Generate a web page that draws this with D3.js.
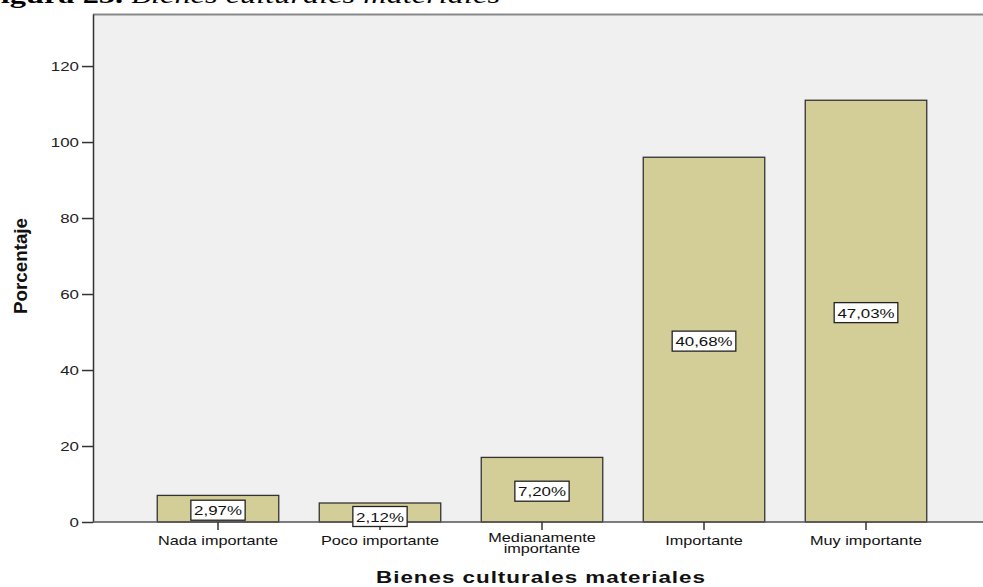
<!DOCTYPE html>
<html>
<head>
<meta charset="utf-8">
<script src="https://cdn.jsdelivr.net/npm/d3@7"></script>
<style>
  html, body { margin: 0; padding: 0; background: #fff; }
  svg { display: block; }
</style>
</head>
<body>
<svg id="chart" width="983" height="587"></svg>
<script>
const categories = ["Nada importante", "Poco importante", "Medianamente importante", "Importante", "Muy importante"];
const counts = [7, 5, 17, 96, 111];
const percentLabels = ["2,97%", "2,12%", "7,20%", "40,68%", "47,03%"];
const yTicks = [0, 20, 40, 60, 80, 100, 120];
const yTitle = "Porcentaje";
const xTitle = "Bienes culturales materiales";

const svg = d3.select("#chart");
const plot = { left: 93, right: 983, top: 14, bottom: 522 };
const sans = "Liberation Sans, Arial, sans-serif";
const SX = 1.25; // horizontal stretch of the original picture

function wideText(parent, px, py, str, size, anchor, sx) {
  return parent.append("text")
    .attr("transform", `translate(${px},${py}) scale(${sx || SX},1)`)
    .attr("text-anchor", anchor || "middle")
    .attr("font-family", sans)
    .attr("font-size", size)
    .attr("fill", "#111")
    .text(str);
}

// Cut-off figure caption at top
const cap = svg.append("text").attr("transform", "translate(-19,3) scale(1.35,1)")
  .attr("font-family", "Liberation Serif, Times New Roman, serif").attr("font-size", 24);
cap.append("tspan").attr("font-weight", "bold").text("Figura 23. ");
cap.append("tspan").attr("font-style", "italic").text("Bienes culturales materiales");

const y = d3.scaleLinear().domain([0, 133.7]).range([plot.bottom, plot.top]);
const x = d3.scaleBand().domain(categories).range([137, 947]).paddingInner(0.25).paddingOuter(0.125);

// background
svg.append("rect").attr("x", plot.left).attr("y", plot.top)
  .attr("width", plot.right - plot.left).attr("height", plot.bottom - plot.top)
  .attr("fill", "#f0f0f0");
svg.append("line").attr("x1", plot.left).attr("x2", plot.right)
  .attr("y1", plot.top + 0.5).attr("y2", plot.top + 0.5)
  .attr("stroke", "#888").attr("stroke-width", 2);

// bars
svg.selectAll("rect.bar").data(categories).enter().append("rect")
  .attr("class", "bar")
  .attr("x", d => x(d))
  .attr("y", (d, i) => y(counts[i]))
  .attr("width", x.bandwidth())
  .attr("height", (d, i) => y(0) - y(counts[i]))
  .attr("fill", "#d3ce98")
  .attr("stroke", "#333")
  .attr("stroke-width", 1.3);

// y axis
const yAxis = d3.axisLeft(y).tickValues(yTicks).tickSize(11).tickSizeOuter(0).tickFormat("");
const gy = svg.append("g").attr("transform", `translate(${plot.left},0)`).call(yAxis);
gy.select(".domain").attr("stroke", "#333").attr("stroke-width", 1.5);
gy.selectAll(".tick line").attr("stroke", "#333").attr("stroke-width", 1.5);
yTicks.forEach(v => {
  wideText(svg, 79, y(v) + 5, String(v), 13.5, "end").attr("fill", "#222");
});

// x axis line
svg.append("line").attr("x1", plot.left).attr("x2", plot.right)
  .attr("y1", plot.bottom).attr("y2", plot.bottom)
  .attr("stroke", "#555").attr("stroke-width", 1.5);
const xAxis = d3.axisBottom(x).tickSize(8).tickSizeOuter(0).tickFormat("");
const gx = svg.append("g").attr("transform", `translate(0,${plot.bottom})`).call(xAxis);
gx.select(".domain").remove();
gx.selectAll(".tick line").attr("stroke", "#333").attr("stroke-width", 1.5);

// x tick labels (wrapped)
const wrapped = { "Medianamente importante": ["Medianamente", "importante"] };
categories.forEach(c => {
  const lines = wrapped[c] || [c];
  const cx = x(c) + x.bandwidth() / 2;
  lines.forEach((l, i) => {
    wideText(svg, cx, lines.length > 1 ? 542 + i * 11 : 545, l, 13);
  });
});

// value labels
categories.forEach((c, i) => {
  const cx = x(c) + x.bandwidth() / 2;
  let cy = (y(counts[i]) + y(0)) / 2 + 1.5;
  if (i === 1) cy += 2.5;
  const g = svg.append("g");
  const txt = wideText(g, cx, cy + 5, percentLabels[i], 13.5);
  const bb = txt.node().getBBox();
  const w = bb.width * SX;
  g.insert("rect", "text")
    .attr("x", cx - w / 2 - 3).attr("y", cy - 10)
    .attr("width", w + 6).attr("height", 20)
    .attr("fill", "#fff").attr("stroke", "#222").attr("stroke-width", 1.3);
});

// axis titles
svg.append("text")
  .attr("transform", `translate(27,266) rotate(-90)`)
  .attr("text-anchor", "middle")
  .attr("font-family", "Liberation Sans Narrow, Arial Narrow, Liberation Sans, sans-serif")
  .attr("font-weight", "bold").attr("font-size", 18).attr("fill", "#111")
  .attr("textLength", 96).attr("lengthAdjust", "spacingAndGlyphs")
  .text(yTitle);

wideText(svg, 541, 583, xTitle, 16, "middle", 1.4)
  .attr("font-weight", "bold").attr("letter-spacing", 0.7);
</script>
</body>
</html>
